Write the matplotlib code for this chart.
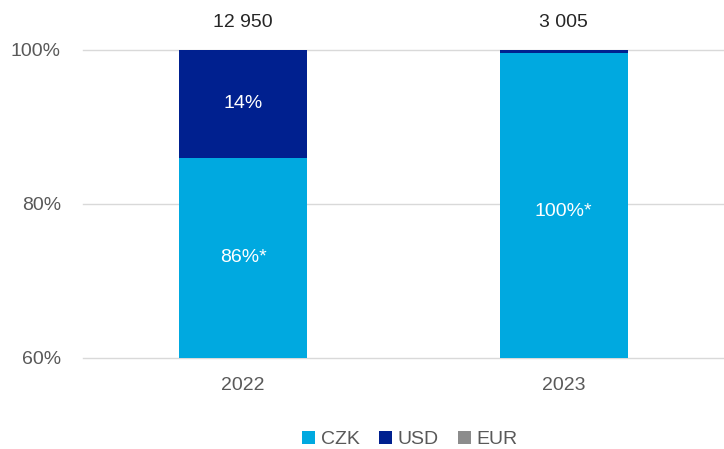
import numpy as np
import matplotlib
matplotlib.use("Agg")
from matplotlib import pyplot as plt

plt.rcParams['font.family'] = ['Liberation Sans', 'DejaVu Sans']

years = ['2022', '2023']
czk = [86.0, 99.6]
usd = [14.0, 0.4]
eur = [0.0, 0.0]
totals = ['12 950', '3 005']
czk_labels = ['86%*', '100%*']
usd_labels = ['14%', '']

c_czk = '#00a9e0'
c_usd = '#00208f'
c_eur = '#8c8c8c'
grey = '#595959'
fs = 14

fig = plt.figure(figsize=(7.24, 4.49), dpi=100)
ax = fig.add_axes([83 / 724, 91 / 449, 641 / 724, 308 / 449])

x = np.arange(len(years))
w = 0.4
czk_arr = np.array(czk)
usd_arr = np.array(usd)
ax.bar(x, czk_arr, w, color=c_czk, label='CZK', zorder=3)
ax.bar(x, usd_arr, w, bottom=czk_arr, color=c_usd, label='USD', zorder=3)
ax.bar(x, eur, w, bottom=czk_arr + usd_arr, color=c_eur, label='EUR', zorder=3)

ax.set_ylim(60, 100)
ax.set_xlim(-0.5, 1.5)
ax.set_yticks([60, 80, 100])
ax.set_yticklabels(['60%', '80%', '100%'])
ax.set_xticks(x)
ax.set_xticklabels(years)
ax.grid(axis='y', color='#d9d9d9', linewidth=1, zorder=0)
for gl in ax.get_ygridlines():
    gl.set_clip_on(False)
for s in ax.spines.values():
    s.set_visible(False)
ax.tick_params(length=0, labelsize=fs, colors=grey)
ax.tick_params(axis='x', pad=14)
ax.tick_params(axis='y', pad=16)

# labels inside bars
czk_pos = [(60 + czk[0]) / 2, 79.0]
for i in range(len(years)):
    ax.text(x[i], czk_pos[i], czk_labels[i], ha='center', va='center',
            color='white', fontsize=fs)
    if usd_labels[i]:
        ax.text(x[i], czk[i] + usd[i] / 2, usd_labels[i], ha='center', va='center',
                color='white', fontsize=fs)
    ax.text(x[i], 103.6, totals[i], ha='center', va='center', color='#262626',
            fontsize=fs, clip_on=False)

ax.legend(loc='center', bbox_to_anchor=(0.51, -0.265), ncol=3, frameon=False,
          fontsize=fs, handlelength=0.65, handleheight=0.65, handletextpad=0.3,
          columnspacing=1.0, labelcolor=grey, borderpad=0.1)

fig.savefig('out.png', dpi=100)
